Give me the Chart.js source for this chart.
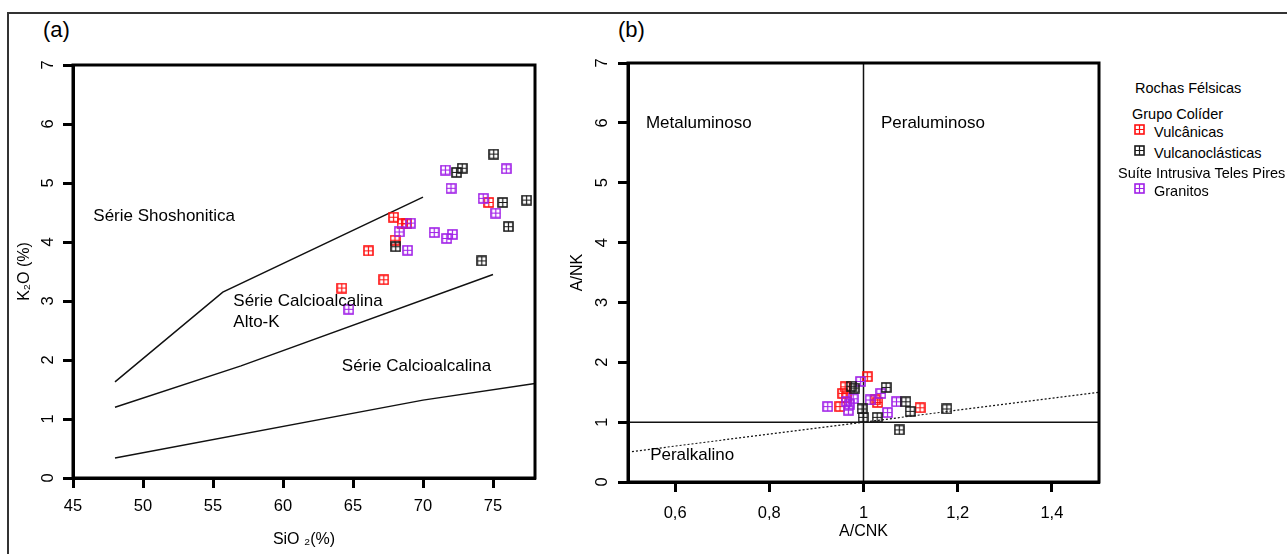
<!DOCTYPE html>
<html lang="pt">
<head>
<meta charset="utf-8">
<title>Diagramas K2O x SiO2 e A/NK x A/CNK</title>
<script src="https://cdn.jsdelivr.net/npm/chart.js@4.4.1/dist/chart.umd.min.js"></script>
<style>
  html, body { margin: 0; padding: 0; background: #fff; }
  body { width: 1287px; height: 554px; position: relative; overflow: hidden;
         font-family: "Liberation Sans", Arial, sans-serif; color: #000; }
  .frame { position: absolute; left: 7px; top: 12px; width: 1320px; height: 620px;
           border: 2px solid #333; box-sizing: border-box; }
  #chartA, #chartB { position: absolute; top: 0; }
  #chartA { left: 0; }
  #chartB { left: 560px; }
  .panel { position: absolute; top: 19px; font-size: 22px; line-height: 1; }
  .leg { position: absolute; font-size: 14.5px; line-height: 1; white-space: nowrap; }
  .leg canvas { position: absolute; left: -20px; top: -1px; }
</style>
</head>
<body>
<div class="frame"></div>
<div class="panel" style="left:43px">(a)</div>
<div class="panel" style="left:618px">(b)</div>
<canvas id="chartA" width="560" height="554"></canvas>
<canvas id="chartB" width="560" height="554"></canvas>

<div class="leg" style="left:1135px; top:81px">Rochas Félsicas</div>
<div class="leg" style="left:1132px; top:107px">Grupo Colíder</div>
<div class="leg" style="left:1154px; top:125px" id="legVulc">Vulcânicas</div>
<div class="leg" style="left:1154px; top:146px" id="legVcl">Vulcanoclásticas</div>
<div class="leg" style="left:1118px; top:166px">Suíte Intrusiva Teles Pires</div>
<div class="leg" style="left:1154px; top:184px" id="legGran">Granitos</div>

<script>
const FONT = '"Liberation Sans", Arial, sans-serif';

// ---- (a) K2O x SiO2 ----
const siO2Ticks = [45, 50, 55, 60, 65, 70, 75];
const k2OTicks = [0, 1, 2, 3, 4, 5, 6, 7];

const vulcanicasSiO2 = [64.2, 66.1, 67.2, 67.9, 68.0, 68.5, 68.85, 74.7];
const vulcanicasK2O  = [3.22, 3.85, 3.36, 4.42, 4.03, 4.31, 4.31, 4.67];

const vulcanoclasticasSiO2 = [68.05, 72.4, 72.8, 75.05, 75.7, 77.4, 76.1, 74.2];
const vulcanoclasticasK2O  = [3.92, 5.18, 5.25, 5.49, 4.67, 4.71, 4.26, 3.68];

const granitosSiO2 = [64.7, 68.3, 68.9, 69.1, 70.8, 71.7, 72.1, 71.6, 72.0, 74.3, 75.2, 75.95];
const granitosK2O  = [2.86, 4.17, 3.86, 4.32, 4.16, 4.06, 4.13, 5.22, 4.91, 4.74, 4.49, 5.24];

// limites das series (SiO2, K2O)
const limiteShoshonitica = [[48, 1.63], [55.7, 3.15], [70, 4.76]];
const limiteAltoK = [[48, 1.2], [57, 1.9], [75, 3.45]];
const limiteCalcioalcalina = [[48, 0.34], [70, 1.32], [78, 1.6]];

const rotulosA = [
  { text: 'Série Shoshonitica', x: 46.45, y: 4.44 },
  { text: 'Série Calcioalcalina', x: 56.45, y: 3.0 },
  { text: 'Alto-K', x: 56.45, y: 2.64 },
  { text: 'Série Calcioalcalina', x: 64.2, y: 1.9 }
];

// ---- (b) A/NK x A/CNK ----
const acnkTicks = [0.6, 0.8, 1, 1.2, 1.4];
const acnkTickLabels = ['0,6', '0,8', '1', '1,2', '1,4'];
const ankTicks = [0, 1, 2, 3, 4, 5, 6, 7];

const vulcanicasACNK = [1.008, 0.961, 0.956, 0.95, 1.025, 1.03, 1.12, 0.963];
const vulcanicasANK  = [1.76, 1.59, 1.48, 1.26, 1.37, 1.33, 1.24, 1.41];

const vulcanoclasticasACNK = [0.98, 0.974, 1.048, 1.09, 1.099, 1.177, 0.997, 0.999, 1.029, 1.076];
const vulcanoclasticasANK  = [1.57, 1.6, 1.58, 1.34, 1.18, 1.22, 1.22, 1.08, 1.08, 0.87];

const granitosACNK = [0.994, 0.924, 0.968, 0.964, 0.978, 0.97, 1.014, 1.037, 1.051, 1.07];
const granitosANK  = [1.68, 1.26, 1.2, 1.34, 1.39, 1.3, 1.37, 1.48, 1.16, 1.34];

const linhaVertical = [[1, 0], [1, 7]];
const linhaHorizontal = [[0.5, 1], [1.5, 1]];
const linhaPeralcalina = [[0.5, 0.5], [1.5, 1.5]];

const rotulosB = [
  { text: 'Metaluminoso', x: 0.538, y: 6.0 },
  { text: 'Peraluminoso', x: 1.037, y: 6.0 },
  { text: 'Peralkalino', x: 0.547, y: 0.45 }
];

const COR_VULC = '#ff1010';
const COR_VCL = '#1a1a1a';
const COR_GRAN = '#a020e8';

// quadrado com cruz no meio
function makeMarker(color) {
  const c = document.createElement('canvas');
  c.width = 11; c.height = 11;
  const g = c.getContext('2d');
  g.strokeStyle = color;
  g.lineWidth = 1.6;
  g.strokeRect(1, 1, 9, 9);
  g.lineWidth = 1.2;
  g.beginPath();
  g.moveTo(5.5, 1); g.lineTo(5.5, 10);
  g.moveTo(1, 5.5); g.lineTo(10, 5.5);
  g.stroke();
  return c;
}

function pointSet(label, xs, ys, color) {
  return {
    label,
    data: xs.map((v, i) => ({ x: v, y: ys[i] })),
    pointStyle: makeMarker(color),
    pointRadius: 5,
    showLine: false,
    order: 1
  };
}

function lineSet(pts, width, dash) {
  return {
    data: pts.map(p => ({ x: p[0], y: p[1] })),
    showLine: true,
    borderColor: '#111',
    borderWidth: width,
    borderDash: dash || [],
    pointRadius: 0,
    tension: 0,
    order: 2
  };
}

// moldura da area do grafico + textos dos campos
const frameAndLabels = {
  id: 'frameAndLabels',
  afterDatasetsDraw(chart, args, opts) {
    const { ctx, chartArea: a, scales: { x, y } } = chart;
    ctx.save();
    ctx.lineWidth = 3;
    ctx.strokeStyle = '#000';
    ctx.strokeRect(a.left, a.top, a.right - a.left, a.bottom - a.top);
    ctx.font = '17px ' + FONT;
    ctx.fillStyle = '#000';
    ctx.textAlign = 'left';
    ctx.textBaseline = 'middle';
    (opts.labels || []).forEach(l => {
      ctx.fillText(l.text, x.getPixelForValue(l.x), y.getPixelForValue(l.y));
    });
    ctx.restore();
  }
};

function axisX(min, max, tickVals, tickLabels, title, height, tickPad, titlePad) {
  return {
    type: 'linear', min, max,
    afterBuildTicks: s => { s.ticks = tickVals.map(v => ({ value: v })); },
    afterFit: s => { s.height = height; },
    border: { display: true, width: 3, color: '#000' },
    grid: { drawOnChartArea: false, drawTicks: true, tickLength: 10, tickWidth: 3, tickColor: '#000' },
    ticks: {
      color: '#000', font: { size: 16.5, family: FONT }, padding: tickPad,
      maxRotation: 0, minRotation: 0,
      callback: (v, i) => tickLabels ? tickLabels[i] : v
    },
    title: { display: true, text: title, color: '#000', font: { size: 16, family: FONT },
             padding: { top: 0, bottom: titlePad } }
  };
}

function axisY(min, max, tickVals, title, width, tickPad, titlePad) {
  return {
    type: 'linear', min, max,
    afterBuildTicks: s => { s.ticks = tickVals.map(v => ({ value: v })); },
    afterFit: s => { s.width = width; },
    border: { display: true, width: 3, color: '#000' },
    grid: { drawOnChartArea: false, drawTicks: true, tickLength: 10, tickWidth: 3, tickColor: '#000' },
    ticks: {
      color: '#000', font: { size: 16.5, family: FONT }, padding: tickPad,
      minRotation: 90, maxRotation: 90, crossAlign: 'center'
    },
    title: { display: true, text: title, color: '#000', font: { size: 16, family: FONT },
             padding: { top: titlePad, bottom: 0 } }
  };
}

const commonOptions = {
  responsive: false,
  animation: false,
  plugins: { legend: { display: false }, tooltip: { enabled: false } }
};

new Chart(document.getElementById('chartA'), {
  type: 'scatter',
  data: {
    datasets: [
      lineSet(limiteShoshonitica, 1.5),
      lineSet(limiteAltoK, 1.5),
      lineSet(limiteCalcioalcalina, 1.5),
      pointSet('Vulcanoclásticas', vulcanoclasticasSiO2, vulcanoclasticasK2O, COR_VCL),
      pointSet('Granitos', granitosSiO2, granitosK2O, COR_GRAN),
      pointSet('Vulcânicas', vulcanicasSiO2, vulcanicasK2O, COR_VULC)
    ]
  },
  options: {
    ...commonOptions,
    layout: { padding: { top: 65, right: 25, left: 0, bottom: 0 } },
    plugins: { ...commonOptions.plugins, frameAndLabels: { labels: rotulosA } },
    scales: {
      x: axisX(45, 78, siO2Ticks, null, 'SiO ₂(%)', 76, 9, 4.4),
      y: axisY(0, 7, k2OTicks, 'K₂O (%)', 73, 9.5, 15.4)
    }
  },
  plugins: [frameAndLabels]
});

new Chart(document.getElementById('chartB'), {
  type: 'scatter',
  data: {
    datasets: [
      lineSet(linhaVertical, 1.5),
      lineSet(linhaHorizontal, 1.5),
      lineSet(linhaPeralcalina, 1.2, [2, 2]),
      pointSet('Vulcanoclásticas', vulcanoclasticasACNK, vulcanoclasticasANK, COR_VCL),
      pointSet('Granitos', granitosACNK, granitosANK, COR_GRAN),
      pointSet('Vulcânicas', vulcanicasACNK, vulcanicasANK, COR_VULC)
    ]
  },
  options: {
    ...commonOptions,
    layout: { padding: { top: 63, right: 21, left: 0, bottom: 0 } },
    plugins: { ...commonOptions.plugins, frameAndLabels: { labels: rotulosB } },
    scales: {
      x: axisX(0.5, 1.5, acnkTicks, acnkTickLabels, 'A/CNK', 72, 12, 12.4),
      y: axisY(0, 7, ankTicks, 'A/NK', 68, 10.5, 8.4)
    }
  },
  plugins: [frameAndLabels]
});

// marcadores da legenda
[['legVulc', COR_VULC], ['legVcl', COR_VCL], ['legGran', COR_GRAN]].forEach(([id, cor]) => {
  document.getElementById(id).appendChild(makeMarker(cor));
});
</script>
</body>
</html>
